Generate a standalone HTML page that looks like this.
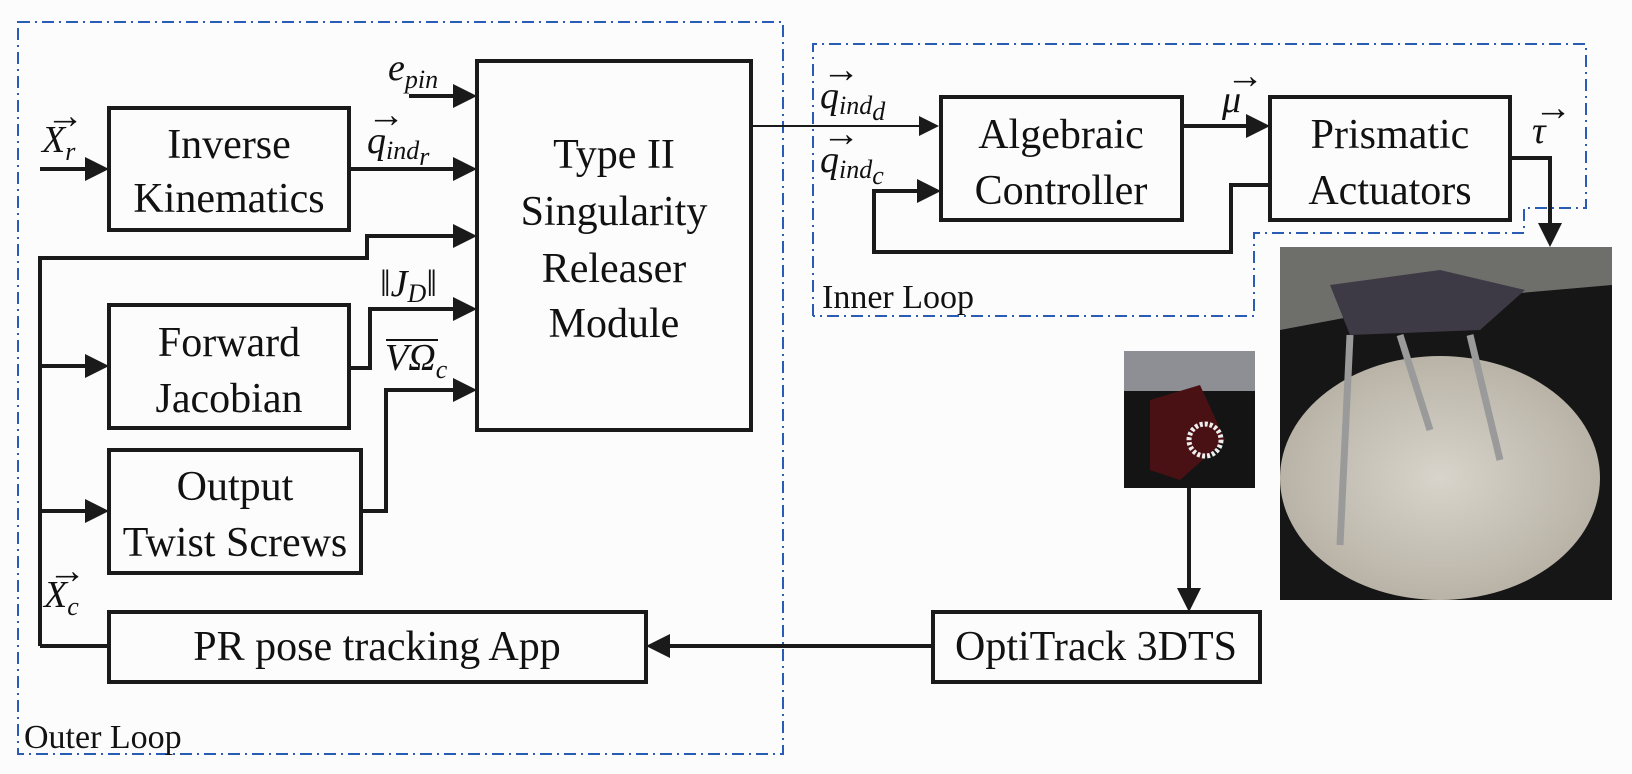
<!DOCTYPE html>
<html><head><meta charset="utf-8"><style>
html,body{margin:0;padding:0;background:#fcfcfc;}
svg{display:block;}
.t{font-family:"Liberation Serif",serif;font-size:42px;fill:#111;}
.m{font-family:"Liberation Serif",serif;font-style:italic;font-size:38px;fill:#111;}
.s{font-family:"Liberation Serif",serif;font-style:italic;font-size:26px;fill:#111;}
.l{font-family:"Liberation Serif",serif;font-size:34px;fill:#111;}
</style></head><body>
<svg width="1632" height="774" viewBox="0 0 1632 774" xmlns="http://www.w3.org/2000/svg">
<defs>
<marker id="a" markerWidth="6" markerHeight="6" refX="5" refY="3" orient="auto" markerUnits="strokeWidth"><path d="M0,0 L6,3 L0,6 z" fill="#1a1a1a"/></marker>
<marker id="b" markerWidth="10" markerHeight="10" refX="9" refY="5" orient="auto" markerUnits="strokeWidth"><path d="M0,0 L10,5 L0,10 z" fill="#1a1a1a"/></marker>
<radialGradient id="plat" cx="0.5" cy="0.5" r="0.5"><stop offset="0" stop-color="#d8d4cb"/><stop offset="1" stop-color="#b9b3a7"/></radialGradient>
</defs>
<!-- dashed loops -->
<g fill="none" stroke="#2b5cb5" stroke-width="2" stroke-dasharray="12 5 2 5">
<rect x="18" y="22" width="765" height="732"/>
<path d="M813,316 L813,44 L1586,44 L1586,208 L1524,208 L1524,233 L1254,233 L1254,316 L813,316"/>
</g>
<!-- photos -->
<rect x="1280" y="247" width="332" height="353" fill="#161616"/>
<path d="M1280,247 L1612,247 L1612,285 L1440,300 L1280,330 z" fill="#6e6e6a"/>
<ellipse cx="1440" cy="478" rx="160" ry="122" fill="url(#plat)"/>
<path d="M1330,285 L1440,270 L1525,290 L1480,330 L1350,335 z" fill="#3e3a45"/>
<g stroke="#9a9a9a" stroke-width="7"><line x1="1350" y1="335" x2="1340" y2="545"/><line x1="1470" y1="335" x2="1500" y2="460"/><line x1="1400" y1="335" x2="1430" y2="430"/></g>
<rect x="1124" y="351" width="131" height="137" fill="#141414"/>
<rect x="1124" y="351" width="131" height="40" fill="#8d8f94"/>
<path d="M1150,400 L1200,385 L1225,440 L1180,480 L1150,470 z" fill="#4a1114"/>
<circle cx="1205" cy="440" r="16" fill="none" stroke="#eee" stroke-width="5" stroke-dasharray="3 2"/>
<!-- boxes -->
<g fill="none" stroke="#1a1a1a" stroke-width="4">
<rect x="109" y="108" width="240" height="122"/>
<rect x="477" y="61" width="274" height="369"/>
<rect x="109" y="305" width="240" height="123"/>
<rect x="109" y="450" width="252" height="123"/>
<rect x="109" y="612" width="537" height="70"/>
<rect x="933" y="612" width="327" height="70"/>
<rect x="941" y="97" width="241" height="123"/>
<rect x="1270" y="97" width="240" height="123"/>
</g>
<!-- connectors -->
<g fill="none" stroke="#1a1a1a" stroke-width="4">
<line x1="409" y1="96" x2="473" y2="96" marker-end="url(#a)"/>
<line x1="40" y1="169" x2="105" y2="169" marker-end="url(#a)"/>
<line x1="349" y1="169" x2="473" y2="169" marker-end="url(#a)"/>
<polyline points="40,646 40,258 367,258 367,236 473,236" marker-end="url(#a)"/>
<line x1="40" y1="366" x2="105" y2="366" marker-end="url(#a)"/>
<line x1="40" y1="511" x2="105" y2="511" marker-end="url(#a)"/>
<line x1="40" y1="646" x2="109" y2="646"/>
<polyline points="349,368 370,368 370,309 473,309" marker-end="url(#a)"/>
<polyline points="361,511 386,511 386,390 473,390" marker-end="url(#a)"/>
<line x1="1182" y1="126" x2="1266" y2="126" marker-end="url(#a)"/>
<polyline points="1270,185 1231,185 1231,252 874,252 874,191 937,191" marker-end="url(#a)"/>
<polyline points="1510,158 1550,158 1550,243" marker-end="url(#a)"/>
<line x1="1189" y1="488" x2="1189" y2="608" marker-end="url(#a)"/>
<line x1="933" y1="646" x2="650" y2="646" marker-end="url(#a)"/>
</g>
<line x1="751" y1="126" x2="937" y2="126" stroke="#1a1a1a" stroke-width="2" marker-end="url(#b)"/>
<!-- box text -->
<g class="t" text-anchor="middle">
<text x="229" y="158">Inverse</text><text x="229" y="212">Kinematics</text>
<text x="614" y="168">Type II</text><text x="614" y="225">Singularity</text><text x="614" y="282">Releaser</text><text x="614" y="337">Module</text>
<text x="229" y="356">Forward</text><text x="229" y="412">Jacobian</text>
<text x="235" y="500">Output</text><text x="235" y="556">Twist Screws</text>
<text x="377" y="660">PR pose tracking App</text>
<text x="1096" y="660">OptiTrack 3DTS</text>
<text x="1061" y="148">Algebraic</text><text x="1061" y="204">Controller</text>
<text x="1390" y="148">Prismatic</text><text x="1390" y="204">Actuators</text>
</g>
<!-- math labels -->
<text class="m" x="388" y="80">e<tspan class="s" dy="8">pin</tspan></text>
<text class="m" x="42" y="152">X<tspan class="s" dy="8">r</tspan></text><text class="m" x="46" y="128" font-size="22">→</text>
<text class="m" x="367" y="153">q<tspan class="s" dy="6">ind</tspan><tspan class="s" dy="6">r</tspan></text><text class="m" x="367" y="127" font-size="22">→</text>
<text class="m" x="380" y="296">‖J<tspan class="s" dy="6">D</tspan><tspan dy="-6">‖</tspan></text>
<text class="m" x="385" y="370" font-style="normal">VΩ<tspan class="s" dy="8">c</tspan></text><line x1="386" y1="340" x2="438" y2="340" stroke="#111" stroke-width="2"/>
<text class="m" x="820" y="108">q<tspan class="s" dy="6">ind</tspan><tspan class="s" dy="6">d</tspan></text><text class="m" x="822" y="82" font-size="22">→</text>
<text class="m" x="820" y="172">q<tspan class="s" dy="6">ind</tspan><tspan class="s" dy="6">c</tspan></text><text class="m" x="822" y="146" font-size="22">→</text>
<text class="m" x="1222" y="112">μ</text><text class="m" x="1226" y="88" font-size="22">→</text>
<text class="m" x="1532" y="143">τ</text><text class="m" x="1534" y="120" font-size="22">→</text>
<text class="m" x="44" y="607">X<tspan class="s" dy="8">c</tspan></text><text class="m" x="48" y="583" font-size="22">→</text>
<text class="l" x="822" y="308">Inner Loop</text>
<text class="l" x="24" y="748">Outer Loop</text>
</svg>
</body></html>
